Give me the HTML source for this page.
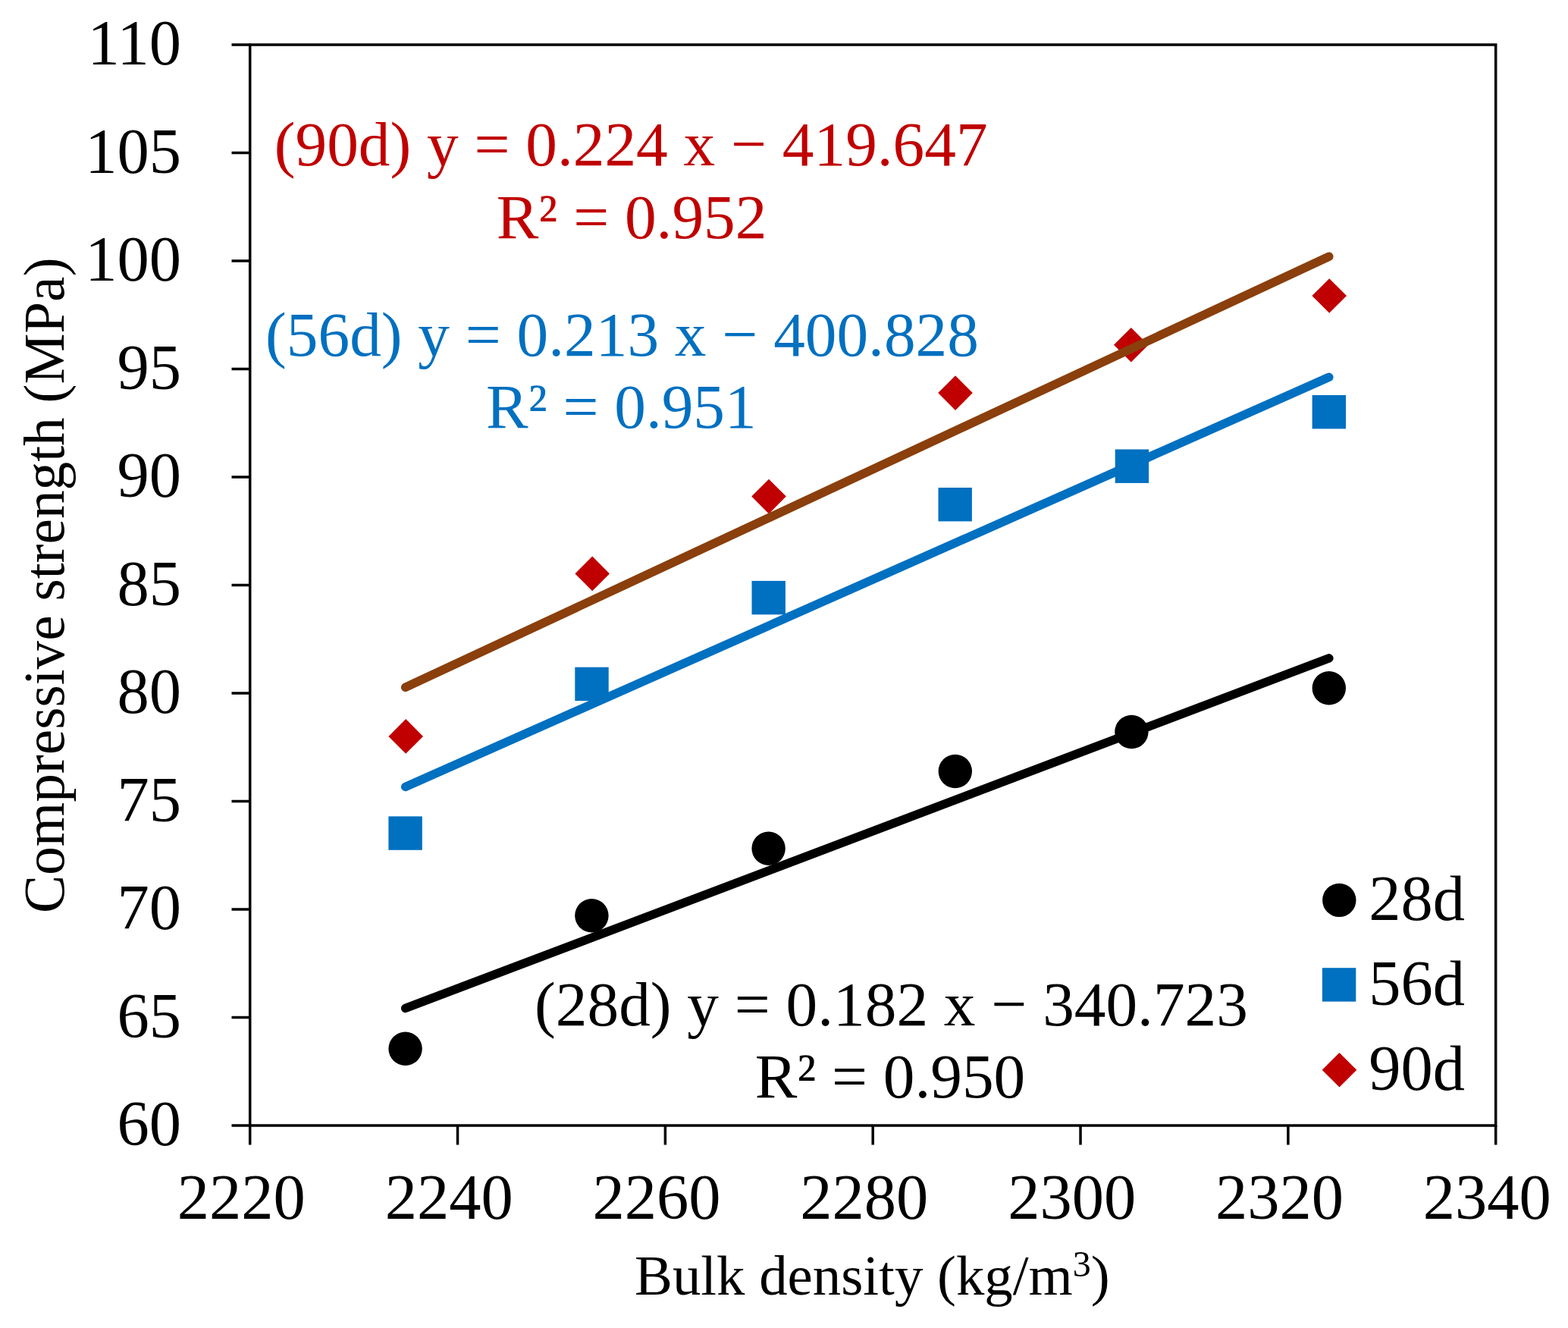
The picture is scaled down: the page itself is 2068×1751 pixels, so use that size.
<!DOCTYPE html>
<html><head><meta charset="utf-8"><title>Compressive strength vs bulk density</title>
<style>html,body{margin:0;padding:0;background:#fff;}svg{display:block;}text{font-family:"Liberation Serif","Times New Roman",serif;}</style></head><body>
<svg width="2068" height="1751" viewBox="0 0 2068 1751">
<rect x="0" y="0" width="2068" height="1751" fill="#fff"/>
<rect x="329.7" y="59.0" width="1643.00" height="1425.00" fill="none" stroke="#000" stroke-width="3.5"/>
<line x1="305.5" y1="59.00" x2="329.7" y2="59.00" stroke="#000" stroke-width="3.5"/>
<line x1="305.5" y1="201.50" x2="329.7" y2="201.50" stroke="#000" stroke-width="3.5"/>
<line x1="305.5" y1="344.00" x2="329.7" y2="344.00" stroke="#000" stroke-width="3.5"/>
<line x1="305.5" y1="486.50" x2="329.7" y2="486.50" stroke="#000" stroke-width="3.5"/>
<line x1="305.5" y1="629.00" x2="329.7" y2="629.00" stroke="#000" stroke-width="3.5"/>
<line x1="305.5" y1="771.50" x2="329.7" y2="771.50" stroke="#000" stroke-width="3.5"/>
<line x1="305.5" y1="914.00" x2="329.7" y2="914.00" stroke="#000" stroke-width="3.5"/>
<line x1="305.5" y1="1056.50" x2="329.7" y2="1056.50" stroke="#000" stroke-width="3.5"/>
<line x1="305.5" y1="1199.00" x2="329.7" y2="1199.00" stroke="#000" stroke-width="3.5"/>
<line x1="305.5" y1="1341.50" x2="329.7" y2="1341.50" stroke="#000" stroke-width="3.5"/>
<line x1="305.5" y1="1484.00" x2="329.7" y2="1484.00" stroke="#000" stroke-width="3.5"/>
<line x1="329.70" y1="1484.0" x2="329.70" y2="1509.5" stroke="#000" stroke-width="3.5"/>
<line x1="603.53" y1="1484.0" x2="603.53" y2="1509.5" stroke="#000" stroke-width="3.5"/>
<line x1="877.37" y1="1484.0" x2="877.37" y2="1509.5" stroke="#000" stroke-width="3.5"/>
<line x1="1151.20" y1="1484.0" x2="1151.20" y2="1509.5" stroke="#000" stroke-width="3.5"/>
<line x1="1425.03" y1="1484.0" x2="1425.03" y2="1509.5" stroke="#000" stroke-width="3.5"/>
<line x1="1698.87" y1="1484.0" x2="1698.87" y2="1509.5" stroke="#000" stroke-width="3.5"/>
<line x1="1972.70" y1="1484.0" x2="1972.70" y2="1509.5" stroke="#000" stroke-width="3.5"/>
<text x="239" y="85.00" font-size="84.5" text-anchor="end">110</text>
<text x="239" y="227.50" font-size="84.5" text-anchor="end">105</text>
<text x="239" y="370.00" font-size="84.5" text-anchor="end">100</text>
<text x="239" y="512.50" font-size="84.5" text-anchor="end">95</text>
<text x="239" y="655.00" font-size="84.5" text-anchor="end">90</text>
<text x="239" y="797.50" font-size="84.5" text-anchor="end">85</text>
<text x="239" y="940.00" font-size="84.5" text-anchor="end">80</text>
<text x="239" y="1082.50" font-size="84.5" text-anchor="end">75</text>
<text x="239" y="1225.00" font-size="84.5" text-anchor="end">70</text>
<text x="239" y="1367.50" font-size="84.5" text-anchor="end">65</text>
<text x="239" y="1510.00" font-size="84.5" text-anchor="end">60</text>
<text x="318.30" y="1607" font-size="84.5" text-anchor="middle">2220</text>
<text x="592.13" y="1607" font-size="84.5" text-anchor="middle">2240</text>
<text x="865.97" y="1607" font-size="84.5" text-anchor="middle">2260</text>
<text x="1139.80" y="1607" font-size="84.5" text-anchor="middle">2280</text>
<text x="1413.63" y="1607" font-size="84.5" text-anchor="middle">2300</text>
<text x="1687.47" y="1607" font-size="84.5" text-anchor="middle">2320</text>
<text x="1961.30" y="1607" font-size="84.5" text-anchor="middle">2340</text>
<text transform="translate(84,771.75) rotate(-90)" x="0" y="0" font-size="75.2" text-anchor="middle">Compressive strength (MPa)</text>
<text x="837.05" y="1706.8" font-size="74.8">Bulk density (kg/m<tspan font-size="48" dy="-23.9">3</tspan><tspan dy="23.9">)</tspan></text>
<circle cx="534.6" cy="1382.8" r="22.2" fill="#000"/>
<circle cx="780.4" cy="1207.2" r="22.2" fill="#000"/>
<circle cx="1013.6" cy="1118.8" r="22.2" fill="#000"/>
<circle cx="1259.8" cy="1017" r="22.2" fill="#000"/>
<circle cx="1492.4" cy="965" r="22.2" fill="#000"/>
<circle cx="1752.8" cy="907.2" r="22.2" fill="#000"/>
<rect x="512.40" y="1076.40" width="44.40" height="44.40" fill="#0070C0"/>
<rect x="758.30" y="879.70" width="44.40" height="44.40" fill="#0070C0"/>
<rect x="991.50" y="765.90" width="44.40" height="44.40" fill="#0070C0"/>
<rect x="1237.50" y="643.00" width="44.40" height="44.40" fill="#0070C0"/>
<rect x="1470.70" y="592.50" width="44.40" height="44.40" fill="#0070C0"/>
<rect x="1730.60" y="521.00" width="44.40" height="44.40" fill="#0070C0"/>
<polygon points="535.20,948.10 558.00,970.90 535.20,993.70 512.40,970.90" fill="#C00000"/>
<polygon points="781.20,733.60 804.00,756.40 781.20,779.20 758.40,756.40" fill="#C00000"/>
<polygon points="1014.00,631.80 1036.80,654.60 1014.00,677.40 991.20,654.60" fill="#C00000"/>
<polygon points="1260.00,495.30 1282.80,518.10 1260.00,540.90 1237.20,518.10" fill="#C00000"/>
<polygon points="1491.80,432.00 1514.60,454.80 1491.80,477.60 1469.00,454.80" fill="#C00000"/>
<polygon points="1753.20,367.20 1776.00,390.00 1753.20,412.80 1730.40,390.00" fill="#C00000"/>
<line x1="534.7" y1="1329.41" x2="1752.8" y2="867.88" stroke="#000" stroke-width="11.5" stroke-linecap="round"/>
<line x1="534.7" y1="1037.48" x2="1752.8" y2="497.33" stroke="#0070C0" stroke-width="11.5" stroke-linecap="round"/>
<line x1="534.7" y1="906.24" x2="1752.8" y2="338.24" stroke="#8A3F0C" stroke-width="11.5" stroke-linecap="round"/>
<text x="361.8" y="218.4" font-size="83.3" fill="#C00000">(90d) y = 0.224 x − 419.647</text>
<text x="654.8" y="314.3" font-size="83.3" fill="#C00000">R² = 0.952</text>
<text x="350.1" y="469.0" font-size="83.3" fill="#0070C0">(56d) y = 0.213 x − 400.828</text>
<text x="641.1" y="564.2" font-size="83.3" fill="#0070C0">R² = 0.951</text>
<text x="705.1" y="1351.7" font-size="83.3" fill="#000">(28d) y = 0.182 x − 340.723</text>
<text x="995.7" y="1447.2" font-size="83.3" fill="#000">R² = 0.950</text>
<circle cx="1766.3" cy="1186.9" r="22.2" fill="#000"/>
<rect x="1743.90" y="1276.20" width="44.40" height="44.40" fill="#0070C0"/>
<polygon points="1766.50,1388.00 1789.30,1410.80 1766.50,1433.60 1743.70,1410.80" fill="#C00000"/>
<text x="1805.3" y="1212.6" font-size="84.5">28d</text>
<text x="1805.3" y="1325.0" font-size="84.5">56d</text>
<text x="1805.3" y="1437.3" font-size="84.5">90d</text>
</svg></body></html>
